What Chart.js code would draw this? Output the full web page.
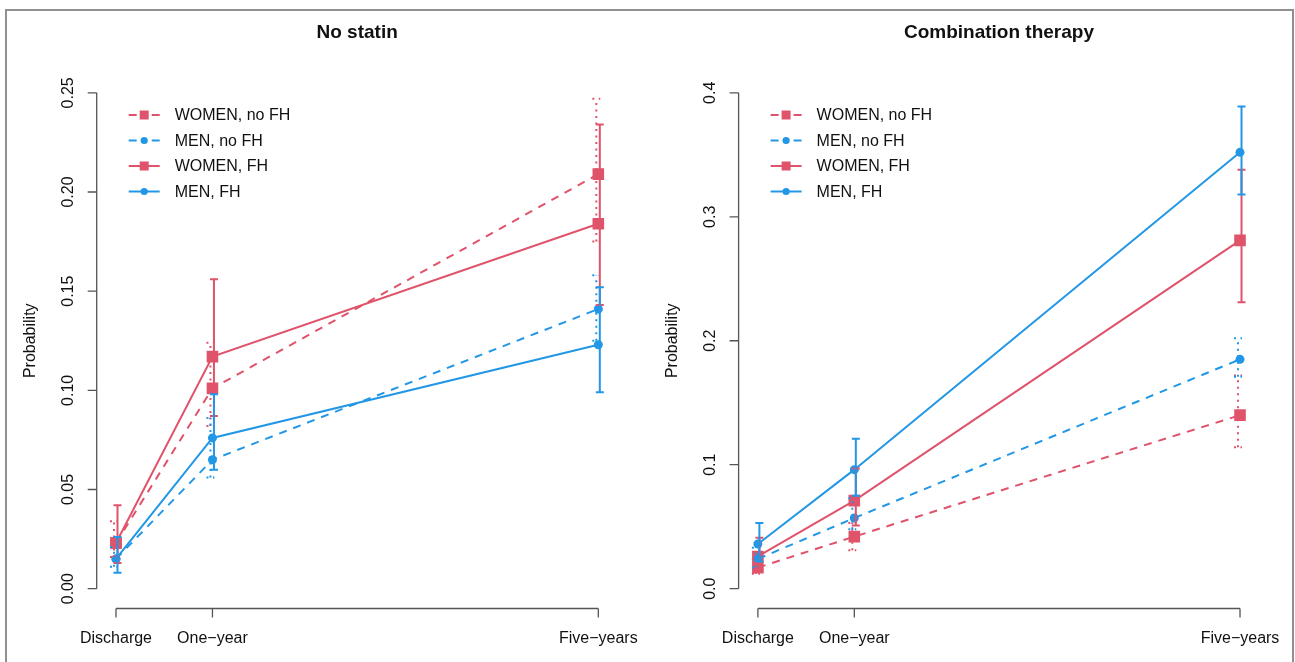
<!DOCTYPE html>
<html lang="en">
<head>
    <meta charset="UTF-8">
    <style>
        body {
            margin: 0;
            background: #ffffff;
            width: 1295px;
            height: 662px;
            overflow: hidden;
            position: relative;
            font-family: "Liberation Sans", Arial, Helvetica, sans-serif;
        }
        .frame {
            position: absolute;
            left: 5px;
            top: 9px;
            width: 1289px;
            height: 700px;
            border: 2px solid #909090;
            box-sizing: border-box;
        }
        canvas {
            position: absolute;
            top: 0;
        }
        #leftChart { left: 0; }
        #rightChart { left: 647px; }
    </style>
    <script src="https://cdn.jsdelivr.net/npm/chart.js"></script>
</head>
<body>
    <div class="frame"></div>
    <canvas id="leftChart" width="647" height="662"></canvas>
    <canvas id="rightChart" width="648" height="662"></canvas>

    <script>
        // time points (years after discharge) and their labels
        const timePoints = [0, 1, 5];
        const timeLabels = ['Discharge', 'One\u2212year', 'Five\u2212years'];
        const seriesNames = ['WOMEN, no FH', 'MEN, no FH', 'WOMEN, FH', 'MEN, FH'];

        // No statin panel
        const noStatinWomenNoFH = [0.023, 0.101, 0.209];
        const noStatinWomenNoFHLo = [0.016, 0.082, 0.175];
        const noStatinWomenNoFHHi = [0.034, 0.124, 0.247];
        const noStatinMenNoFH = [0.015, 0.065, 0.141];
        const noStatinMenNoFHLo = [0.011, 0.056, 0.125];
        const noStatinMenNoFHHi = [0.021, 0.086, 0.158];
        const noStatinWomenFH = [0.023, 0.117, 0.184];
        const noStatinWomenFHLo = [0.013, 0.087, 0.143];
        const noStatinWomenFHHi = [0.042, 0.156, 0.234];
        const noStatinMenFH = [0.015, 0.076, 0.123];
        const noStatinMenFHLo = [0.008, 0.060, 0.099];
        const noStatinMenFHHi = [0.026, 0.098, 0.152];
        const noStatinTicks = [0, 0.05, 0.10, 0.15, 0.20, 0.25];
        const noStatinTickLabels = ['0.00', '0.05', '0.10', '0.15', '0.20', '0.25'];

        // Combination therapy panel
        const comboWomenNoFH = [0.017, 0.042, 0.140];
        const comboWomenNoFHLo = [0.012, 0.031, 0.114];
        const comboWomenNoFHHi = [0.024, 0.053, 0.172];
        const comboMenNoFH = [0.024, 0.057, 0.185];
        const comboMenNoFHLo = [0.017, 0.048, 0.171];
        const comboMenNoFHHi = [0.033, 0.073, 0.202];
        const comboWomenFH = [0.026, 0.071, 0.281];
        const comboWomenFHLo = [0.015, 0.051, 0.231];
        const comboWomenFHHi = [0.041, 0.097, 0.338];
        const comboMenFH = [0.036, 0.096, 0.352];
        const comboMenFHLo = [0.022, 0.075, 0.318];
        const comboMenFHHi = [0.053, 0.121, 0.389];
        const comboTicks = [0, 0.1, 0.2, 0.3, 0.4];
        const comboTickLabels = ['0.0', '0.1', '0.2', '0.3', '0.4'];

        const RED = '#DF536B';
        const BLUE = '#2297E6';
        const FONT = '"Liberation Sans", Arial, Helvetica, sans-serif';

        function makeDataset(i, values, lo, hi) {
            const women = i % 2 === 0;
            const noFH = i < 2;
            const color = women ? RED : BLUE;
            return {
                label: seriesNames[i],
                data: timePoints.map((t, k) => ({ x: t, y: values[k] })),
                lo: lo,
                hi: hi,
                dotted: noFH,
                borderColor: color,
                backgroundColor: color,
                borderWidth: 2,
                borderDash: noFH ? [8, 7] : [],
                pointStyle: women ? 'rect' : 'circle',
                pointRadius: women ? 8.2 : 4.5,
                pointBorderWidth: 0,
                pointBackgroundColor: color,
                tension: 0
            };
        }

        // R style axes, error bars, legend and title
        const rStylePlugin = {
            id: 'rStyle',
            afterDatasetsDraw(chart) {
                const ctx = chart.ctx;
                const xs = chart.scales.x;
                const ys = chart.scales.y;
                const area = chart.chartArea;
                const opts = chart.options.plugins.rStyle;

                // error bars
                chart.data.datasets.forEach((ds) => {
                    ctx.save();
                    ctx.strokeStyle = ds.borderColor;
                    ctx.lineWidth = 2;
                    ctx.setLineDash(ds.dotted ? [2, 4.5] : []);
                    const shift = ds.dotted ? -2 : 1.5;
                    timePoints.forEach((t, k) => {
                        const px = xs.getPixelForValue(t) + shift;
                        const pLo = ys.getPixelForValue(ds.lo[k]);
                        const pHi = ys.getPixelForValue(ds.hi[k]);
                        ctx.beginPath();
                        ctx.moveTo(px, pLo);
                        ctx.lineTo(px, pHi);
                        ctx.moveTo(px - 4, pLo);
                        ctx.lineTo(px + 4, pLo);
                        ctx.moveTo(px - 4, pHi);
                        ctx.lineTo(px + 4, pHi);
                        ctx.stroke();
                    });
                    ctx.restore();
                });

                ctx.save();
                ctx.strokeStyle = '#555555';
                ctx.fillStyle = '#111111';
                ctx.lineWidth = 1.3;

                // y axis
                const ax = area.left;
                const yTop = ys.getPixelForValue(opts.ticks[opts.ticks.length - 1]);
                const yBot = ys.getPixelForValue(opts.ticks[0]);
                ctx.beginPath();
                ctx.moveTo(ax, yTop);
                ctx.lineTo(ax, yBot);
                opts.ticks.forEach(v => {
                    const py = ys.getPixelForValue(v);
                    ctx.moveTo(ax, py);
                    ctx.lineTo(ax - 9, py);
                });
                ctx.stroke();
                ctx.font = '16px ' + FONT;
                ctx.textAlign = 'center';
                ctx.textBaseline = 'middle';
                opts.ticks.forEach((v, k) => {
                    const py = ys.getPixelForValue(v);
                    ctx.save();
                    ctx.translate(ax - 28, py);
                    ctx.rotate(-Math.PI / 2);
                    ctx.fillText(opts.tickLabels[k], 0, 0);
                    ctx.restore();
                });

                // x axis
                const ay = area.bottom;
                ctx.beginPath();
                ctx.moveTo(xs.getPixelForValue(timePoints[0]), ay);
                ctx.lineTo(xs.getPixelForValue(timePoints[timePoints.length - 1]), ay);
                timePoints.forEach(t => {
                    const px = xs.getPixelForValue(t);
                    ctx.moveTo(px, ay);
                    ctx.lineTo(px, ay + 9);
                });
                ctx.stroke();
                timePoints.forEach((t, k) => {
                    ctx.fillText(timeLabels[k], xs.getPixelForValue(t), ay + 30);
                });

                // y label
                ctx.save();
                ctx.translate(area.left - 66, (area.top + area.bottom) / 2);
                ctx.rotate(-Math.PI / 2);
                ctx.fillText('Probability', 0, 0);
                ctx.restore();

                // title
                ctx.font = 'bold 19px ' + FONT;
                ctx.fillText(opts.title, (area.left + area.right) / 2, 33);

                // legend
                ctx.font = '16px ' + FONT;
                ctx.textAlign = 'left';
                chart.data.datasets.forEach((ds, i) => {
                    const ry = area.top + 42 + i * 25.5;
                    const x0 = area.left + 32;
                    const x1 = area.left + 63;
                    const xm = (x0 + x1) / 2;
                    ctx.save();
                    ctx.strokeStyle = ds.borderColor;
                    ctx.fillStyle = ds.borderColor;
                    ctx.lineWidth = 2;
                    ctx.beginPath();
                    if (ds.dotted) {
                        ctx.moveTo(x0, ry); ctx.lineTo(x0 + 8, ry);
                        ctx.moveTo(x1 - 8, ry); ctx.lineTo(x1, ry);
                    } else {
                        ctx.moveTo(x0, ry); ctx.lineTo(x1, ry);
                    }
                    ctx.stroke();
                    if (ds.pointStyle === 'rect') {
                        ctx.fillRect(xm - 4.5, ry - 4.5, 9, 9);
                    } else {
                        ctx.beginPath();
                        ctx.arc(xm, ry, 3.6, 0, Math.PI * 2);
                        ctx.fill();
                    }
                    ctx.restore();
                    ctx.fillText(ds.label, area.left + 78, ry + 1);
                });

                ctx.restore();
            }
        };

        function buildChart(id, title, datasets, yMin, yMax, ticks, tickLabels, padLeft, padRight) {
            const ctx = document.getElementById(id).getContext('2d');
            return new Chart(ctx, {
                type: 'line',
                data: { datasets: datasets },
                options: {
                    responsive: false,
                    animation: false,
                    devicePixelRatio: 1,
                    layout: {
                        padding: { left: padLeft, right: padRight, top: 73, bottom: 53.5 }
                    },
                    scales: {
                        x: { type: 'linear', min: -0.2, max: 5.2, display: false },
                        y: { type: 'linear', min: yMin, max: yMax, display: false }
                    },
                    plugins: {
                        legend: { display: false },
                        tooltip: { enabled: false },
                        rStyle: { title: title, ticks: ticks, tickLabels: tickLabels }
                    }
                },
                plugins: [rStylePlugin]
            });
        }

        buildChart('leftChart', 'No statin', [
            makeDataset(0, noStatinWomenNoFH, noStatinWomenNoFHLo, noStatinWomenNoFHHi),
            makeDataset(1, noStatinMenNoFH, noStatinMenNoFHLo, noStatinMenNoFHHi),
            makeDataset(2, noStatinWomenFH, noStatinWomenFHLo, noStatinWomenFHHi),
            makeDataset(3, noStatinMenFH, noStatinMenFHLo, noStatinMenFHHi)
        ], -0.01, 0.26, noStatinTicks, noStatinTickLabels, 96.7, 29.4);

        buildChart('rightChart', 'Combination therapy', [
            makeDataset(0, comboWomenNoFH, comboWomenNoFHLo, comboWomenNoFHHi),
            makeDataset(1, comboMenNoFH, comboMenNoFHLo, comboMenNoFHHi),
            makeDataset(2, comboWomenFH, comboWomenFHLo, comboWomenFHHi),
            makeDataset(3, comboMenFH, comboMenFHLo, comboMenFHHi)
        ], -0.016, 0.416, comboTicks, comboTickLabels, 91.6, 35.7);
    </script>
</body>
</html>
